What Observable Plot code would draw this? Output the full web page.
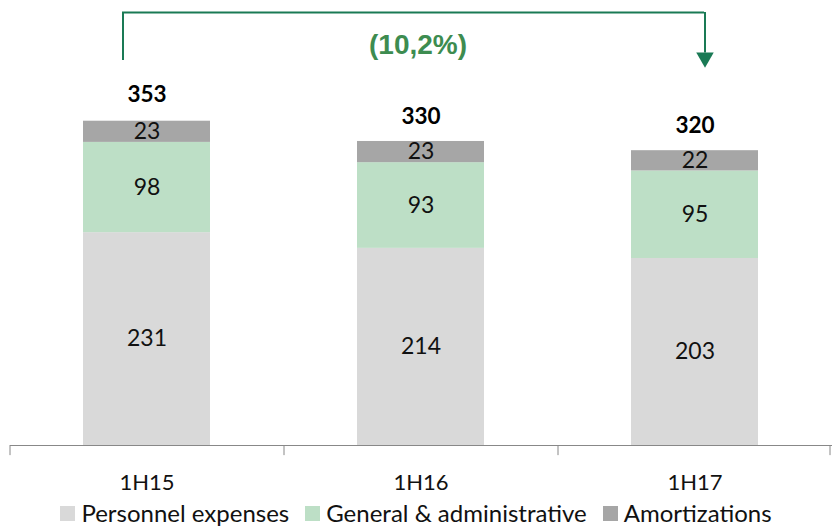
<!DOCTYPE html>
<html>
<head>
<meta charset="utf-8">
<script src="https://cdn.jsdelivr.net/npm/d3@7"></script>
<script src="https://cdn.jsdelivr.net/npm/@observablehq/plot@0.6"></script>
<style>
  html, body { margin: 0; padding: 0; background: #fff; overflow: hidden; }
  #chart { width: 832px; }
  .legend { display: flex; justify-content: center; align-items: center; height: 26px;
    font-family: Lato, "Open Sans", sans-serif; font-size: 24px; line-height: 26px; color: #111; white-space: nowrap; }
  .legend .item { display: flex; align-items: center; margin: 0 8px; }
  .legend .sw { width: 15px; height: 15px; margin-right: 6px; display: inline-block; }
</style>
</head>
<body>
<div id="chart"></div>
<script>
const periods = ["1H15", "1H16", "1H17"];
const seriesNames = ["Personnel expenses", "General & administrative", "Amortizations"];
const personnel = [231, 214, 203];
const general = [98, 93, 95];
const amortizations = [23, 23, 22];
const totals = [353, 330, 320];
const changeLabel = "(10,2%)";
const colors = ["#d9d9d9", "#bddfc6", "#a6a6a6"];

const seriesValues = [personnel, general, amortizations];
const rows = [];
periods.forEach((p, i) => {
  seriesNames.forEach((s, j) => rows.push({period: p, series: s, value: seriesValues[j][i]}));
});
const totalRows = periods.map((p, i) => ({period: p, total: totals[i]}));

const bracketTop = 470, leftBottom = 418, rightBottom = 426, arrowY = 421, labelY = 435;
const font = "Lato, 'Open Sans', sans-serif";

const chart = Plot.plot({
  width: 832,
  height: 500,
  marginLeft: 10,
  marginRight: 0,
  marginTop: 12,
  marginBottom: 55,
  style: {fontFamily: font, background: "#fff", overflow: "visible"},
  x: {domain: periods, paddingInner: 0.536, paddingOuter: 0.268, label: null, axis: null},
  y: {domain: [0, 470], axis: null},
  color: {domain: seriesNames, range: colors},
  marks: [
    Plot.barY(rows, {x: "period", y: "value", fill: "series", order: seriesNames}),
    Plot.text(rows, Plot.stackY({x: "period", y: "value", z: "series", order: seriesNames, text: d => String(d.value), fontSize: 23, fill: "#111"})),
    Plot.text(totalRows, {x: "period", y: "total", text: d => String(d.total), dy: -25, fontSize: 22.5, fontWeight: "bold", fill: "#000"}),
    Plot.ruleY([0], {stroke: "#888", strokeWidth: 1}),
    Plot.ruleX(periods, {x: d => d, y1: 0, y2: -11, dx: -137, stroke: "#888"}),
    Plot.ruleX([periods[periods.length - 1]], {x: d => d, y1: 0, y2: -11, dx: 135, stroke: "#888"}),
    Plot.text(periods, {x: d => d, y: 0, text: d => d, dy: 37, fontSize: 22, fill: "#111"}),
    // bracket
    Plot.ruleY([bracketTop], {x1: () => periods[0], x2: () => periods[2], insetLeft: 39, insetRight: 54, stroke: "#1a7a55", strokeWidth: 2}),
    Plot.ruleX([periods[0]], {x: d => d, y1: leftBottom, y2: bracketTop, dx: -24, stroke: "#1a7a55", strokeWidth: 2}),
    Plot.ruleX([periods[2]], {x: d => d, y1: rightBottom, y2: bracketTop, dx: 10, stroke: "#1a7a55", strokeWidth: 2}),
    Plot.dot([periods[2]], {x: d => d, y: arrowY, dx: 10, symbol: "triangle", r: 6.5, rotate: 180, fill: "#1a7a55", stroke: "none"}),
    Plot.text([changeLabel], {x: () => periods[1], y: labelY, text: d => d, dx: -3, fontSize: 28, fontWeight: "bold", fill: "#3d8c50", fontFamily: "'Liberation Sans Narrow', 'Liberation Sans', sans-serif"})
  ]
});
document.getElementById("chart").appendChild(chart);

const legend = document.createElement("div");
legend.className = "legend";
seriesNames.forEach((s, i) => {
  const item = document.createElement("span");
  item.className = "item";
  const sw = document.createElement("span");
  sw.className = "sw";
  sw.style.background = colors[i];
  item.appendChild(sw);
  item.appendChild(document.createTextNode(s));
  legend.appendChild(item);
});
document.getElementById("chart").appendChild(legend);
</script>
</body>
</html>
